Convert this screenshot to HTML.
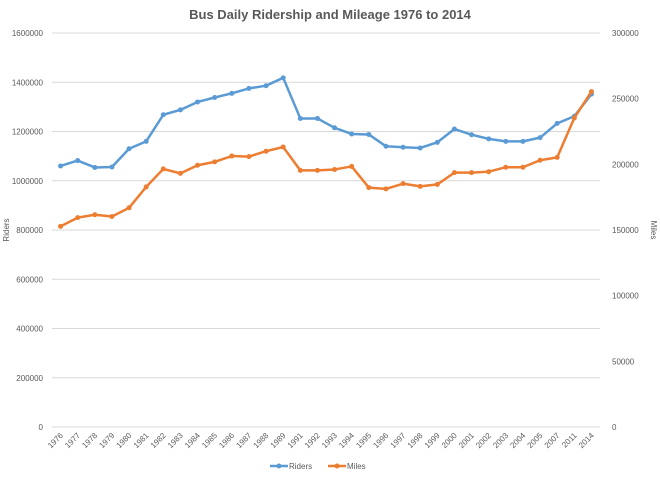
<!DOCTYPE html>
<html><head><meta charset="utf-8"><style>
body{margin:0;background:#fff;font-family:"Liberation Sans",sans-serif}
</style></head><body>
<svg id="c" width="660" height="481"></svg>
<script>
const categories=["1976","1977","1978","1979","1980","1981","1982","1983","1984","1985","1986","1987","1988","1989","1991","1992","1993","1994","1995","1996","1997","1998","1999","2000","2001","2002","2003","2004","2005","2007","2011","2014"];
const riders=[1060000,1082000,1054000,1056000,1130000,1160000,1268000,1288000,1320000,1338000,1355000,1375000,1386000,1418000,1253000,1253000,1215000,1190000,1188000,1140000,1136000,1133000,1156000,1210000,1187000,1170000,1160000,1160000,1175000,1233000,1262000,1352000];
const miles=[152800,159400,161600,160300,166900,182800,196500,193100,199300,201900,206300,205900,210000,213200,195400,195400,196100,198400,182300,181300,185300,183200,184700,193700,193700,194400,197800,197800,203100,205300,235300,255400];
const leftTicks=[0,200000,400000,600000,800000,1000000,1200000,1400000,1600000];
const rightTicks=[0,50000,100000,150000,200000,250000,300000];
const NS="http://www.w3.org/2000/svg",svg=document.getElementById('c');
const X0=52,X1=600,Y0=427,Y1=33;
const bw=(X1-X0)/categories.length;
const x=i=>X0+bw*(i+0.5);
const yL=v=>Y0-(v/1600000)*(Y0-Y1);
const yR=v=>Y0-(v/300000)*(Y0-Y1);
function el(t,a,txt){const e=document.createElementNS(NS,t);for(const k in a)e.setAttribute(k,a[k]);if(txt!=null)e.textContent=txt;svg.appendChild(e);return e;}
let t=el('text',{x:330,y:19,'text-anchor':'middle','font-size':13,'font-weight':'bold',fill:'#595959'},'Bus Daily Ridership and Mileage 1976 to 2014');


leftTicks.forEach(v=>{
 const g=el('line',{x1:X0,x2:X1,y1:yL(v),y2:yL(v),stroke:'#d9d9d9','stroke-width':1});
 
 
 const l=el('text',{x:43,y:yL(v)+3,'text-anchor':'end','font-size':8,fill:'#595959'},String(v));
 
 
});
rightTicks.forEach(v=>{
 const l=el('text',{x:612,y:yR(v)+3,'text-anchor':'start','font-size':8,fill:'#595959'},String(v));
 
 
});
categories.forEach((c,i)=>{
 const l=el('text',{x:x(i)+3,y:436,'text-anchor':'end','font-size':8,fill:'#595959',transform:`rotate(-45 ${x(i)+3} 436)`},c);
 
 
});
let ya=el('text',{x:9,y:230,'text-anchor':'middle','font-size':8,fill:'#595959',transform:'rotate(-90 9 230)'},'Riders');


let yb=el('text',{x:651,y:230,'text-anchor':'middle','font-size':8,fill:'#595959',transform:'rotate(90 651 230)'},'Miles');


function series(vals,yf,color,name){
 const p=el('polyline',{points:vals.map((v,i)=>x(i)+','+yf(v)).join(' '),fill:'none',stroke:color,'stroke-width':2.5,'stroke-linejoin':'round'});
 
 
 vals.forEach((v,i)=>{
  const d=el('circle',{cx:x(i),cy:yf(v),r:2.5,fill:color});
  
  
 });
}
series(riders,yL,'#5b9bd5','riders');
series(miles,yR,'#ed7d31','miles');
[['Riders','#5b9bd5',290],['Miles','#ed7d31',348]].forEach(([n,c,lx])=>{
 const ln=el('line',{x1:lx-20,x2:lx-2,y1:466,y2:466,stroke:c,'stroke-width':2.5});
 
 
 el('circle',{cx:lx-11,cy:466,r:2.5,fill:c});
 const tx=el('text',{x:lx-1,y:469,'font-size':8,fill:'#595959'},n);
 
 
});
</script>
</body></html>
